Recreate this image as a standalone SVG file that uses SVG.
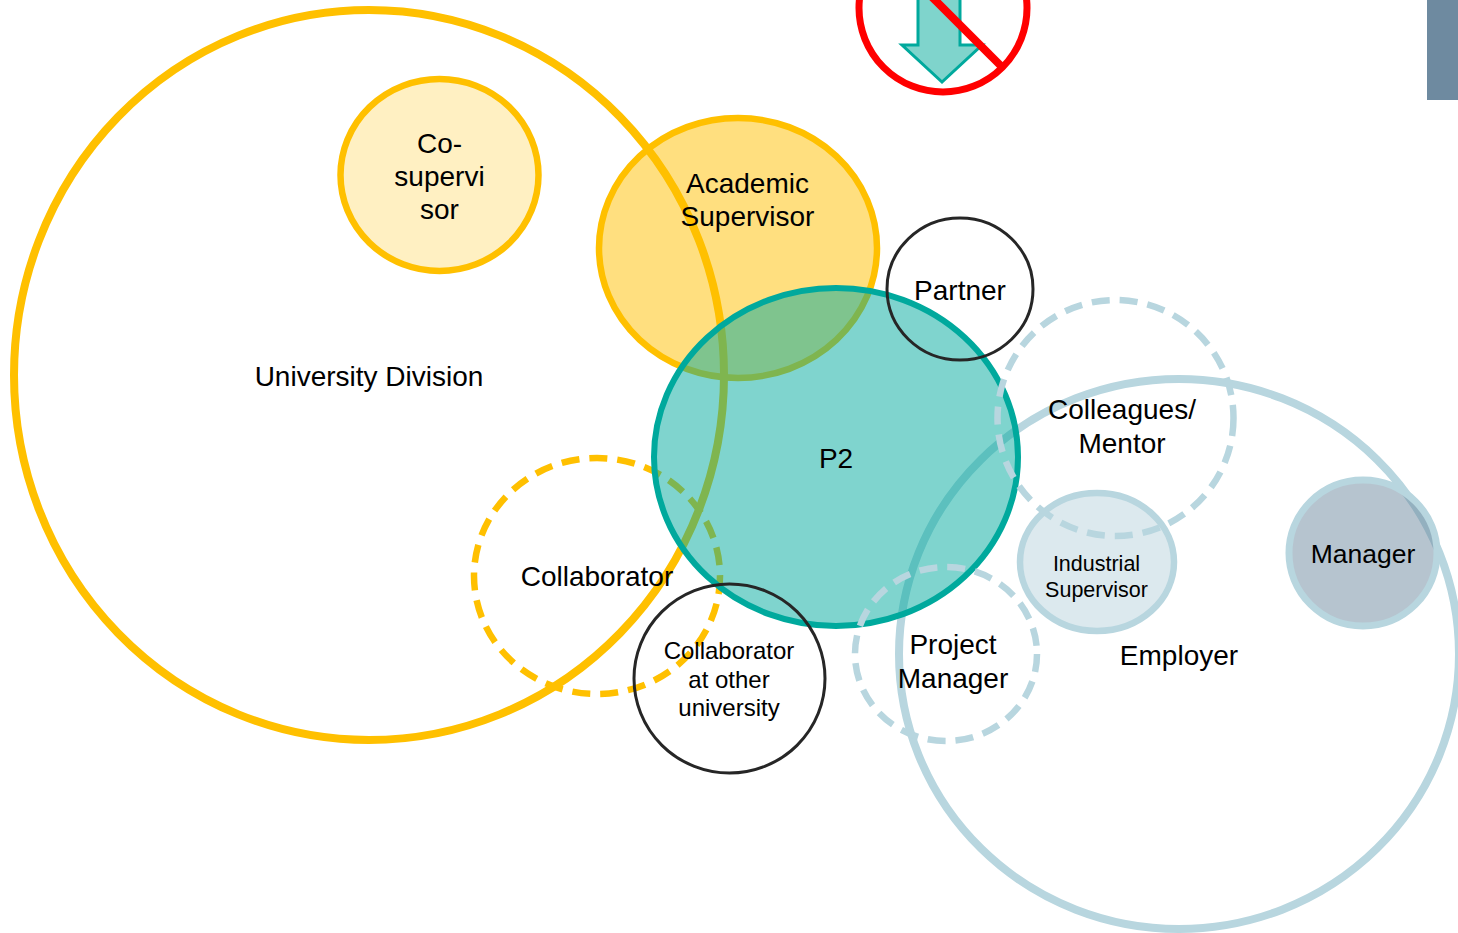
<svg xmlns="http://www.w3.org/2000/svg" width="1458" height="933" viewBox="0 0 1458 933">
<style>
text{font-family:"Liberation Sans",Arial,sans-serif;font-size:28px;fill:#000;text-anchor:middle}
.s{font-size:24px}
.m{font-size:21.500px}
.g{font-size:26.500px}
ellipse{fill:none}
.y{stroke:#FFC000;stroke-width:6.500}
.b{stroke:#B8D6DF;stroke-width:6.500}
.k{stroke:#262626;stroke-width:3}
.d{stroke-dasharray:18 10}
</style>
<rect id="corner-bar" x="1427" y="0" width="31" height="100" fill="#6E8AA0"/>
<g id="no-entry">
<path d="M918 -5V45H902L942 82L982 45H960V-5Z" fill="#7FD4CC" stroke="#00A99D" stroke-width="3"/>
<ellipse cx="943" cy="8" rx="84" ry="84" stroke="#FF0000" stroke-width="7"/>
<path d="M925 -10L1002 67" stroke="#FF0000" stroke-width="8" fill="none"/>
</g>
<g id="university-division"><ellipse cx="369" cy="375" rx="355" ry="365" style="fill:none;stroke:#FFC000;stroke-width:8"/></g>
<g id="co-supervisor"><ellipse class="y" cx="439.500" cy="175" rx="99" ry="96" style="fill:#FFF0C2"/></g>
<g id="academic-supervisor"><ellipse class="y" cx="738" cy="248" rx="139" ry="130" style="fill:#FFC000;fill-opacity:.5"/></g>
<g id="collaborator"><ellipse class="y d" cx="597" cy="576" rx="123" ry="118"/></g>
<g id="employer"><ellipse cx="1179" cy="654" rx="280" ry="275" style="fill:none;stroke:#B8D6DF;stroke-width:8"/></g>
<g id="manager"><ellipse class="b" cx="1363" cy="553" rx="74" ry="73" style="fill:#6E8AA0;fill-opacity:.5;stroke-width:7"/></g>
<g id="industrial-supervisor"><ellipse class="b" cx="1097" cy="562" rx="77" ry="69" style="fill:#DCE9EE"/></g>
<g id="p2"><ellipse cx="836" cy="457" rx="182" ry="169" style="fill:#00A99D;fill-opacity:.5;stroke:#00A99D;stroke-width:6"/></g>
<g id="colleagues-mentor"><ellipse class="b d" cx="1115.500" cy="418" rx="118" ry="118"/></g>
<g id="project-manager"><ellipse class="b d" cx="946" cy="654" rx="91" ry="87"/></g>
<g id="partner"><ellipse class="k" cx="960" cy="289" rx="73" ry="71"/></g>
<g id="collaborator-other"><ellipse class="k" cx="729.500" cy="678.500" rx="95.500" ry="94.500"/></g>
<g id="connectors"></g>
<g id="labels">
<text x="369" y="386">University Division</text>
<text x="439.500" y="153">Co-</text><text x="439.500" y="186">supervi</text><text x="439.500" y="219">sor</text>
<text x="747.500" y="193">Academic</text><text x="747.500" y="226">Supervisor</text>
<text x="960" y="300">Partner</text>
<text x="836" y="468">P2</text>
<text x="1122" y="419">Colleagues/</text><text x="1122" y="453">Mentor</text>
<text class="m" x="1096.500" y="571">Industrial</text><text class="m" x="1096.500" y="597">Supervisor</text>
<text class="g" x="1363" y="563">Manager</text>
<text x="1179" y="665">Employer</text>
<text x="597" y="586">Collaborator</text>
<text x="953" y="654">Project</text><text x="953" y="688">Manager</text>
<text class="s" x="729" y="659">Collaborator</text><text class="s" x="729" y="688">at other</text><text class="s" x="729" y="716">university</text>
</g>
</svg>
